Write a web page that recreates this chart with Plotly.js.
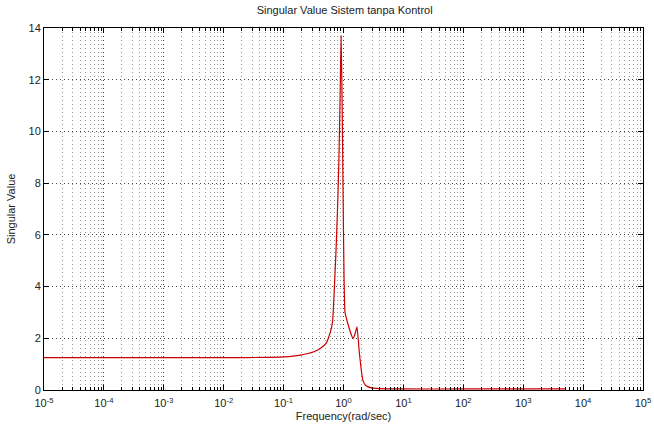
<!DOCTYPE html>
<html>
<head>
<meta charset="utf-8">
<script src="https://cdn.plot.ly/plotly-3.0.1.min.js"></script>
<style>html,body{margin:0;padding:0;background:#fff;}#chart{width:654px;height:433px;}</style>
</head>
<body>
<div id="chart"></div>
<script>
const frequency = [1e-5, 1e-4, 1e-3, 1e-2, 0.05, 0.1, 0.19, 0.32, 0.42, 0.51, 0.57, 0.63, 0.66, 0.69, 0.75, 0.8, 0.84, 0.88, 0.91, 0.95, 0.98, 1.02, 1.06, 1.17, 1.3, 1.43, 1.55, 1.68, 1.82, 1.95, 2.1, 2.3, 2.54, 3.09, 4, 10, 100, 1000, 5000];
const singularValue = [1.25, 1.25, 1.25, 1.25, 1.26, 1.28, 1.35, 1.48, 1.62, 1.8, 2.06, 2.4, 2.7, 3.5, 5.4, 7.2, 9.0, 11.5, 13.7, 11.0, 8.0, 4.4, 3.0, 2.6, 2.25, 2.0, 2.15, 2.44, 1.55, 0.9, 0.39, 0.2, 0.13, 0.07, 0.05, 0.04, 0.04, 0.04, 0.04];
const xTickVals = [1e-5, 1e-4, 1e-3, 1e-2, 1e-1, 1e0, 1e1, 1e2, 1e3, 1e4, 1e5];
const xTickText = ['10<sup>-5</sup>', '10<sup>-4</sup>', '10<sup>-3</sup>', '10<sup>-2</sup>', '10<sup>-1</sup>', '10<sup>0</sup>', '10<sup>1</sup>', '10<sup>2</sup>', '10<sup>3</sup>', '10<sup>4</sup>', '10<sup>5</sup>'];
const yTickVals = [0, 2, 4, 6, 8, 10, 12, 14];

const font = {family: 'Liberation Sans, Arial, sans-serif', size: 11, color: '#222'};

Plotly.newPlot('chart', [{
  x: frequency,
  y: singularValue,
  type: 'scatter',
  mode: 'lines',
  line: {color: '#cc0000', width: 1.2, shape: 'spline', smoothing: 0.4},
  hoverinfo: 'x+y'
}], {
  width: 654, height: 433,
  margin: {l: 44, r: 11, t: 28, b: 43},
  paper_bgcolor: '#fff', plot_bgcolor: '#fff',
  font: font,
  showlegend: false,
  title: {text: 'Singular Value Sistem tanpa Kontrol', font: {family: font.family, size: 11, color: '#222'}, x: 0.527, xanchor: 'center', y: 0.985, yanchor: 'top'},
  xaxis: {
    type: 'log', range: [-5, 5],
    tickvals: xTickVals, ticktext: xTickText,
    ticks: 'inside', ticklen: 5, tickcolor: '#000',
    ticklabelstandoff: 3,
    showline: true, linecolor: '#000', linewidth: 1, mirror: 'ticks',
    showgrid: true, gridcolor: '#444', griddash: '1px,3px', gridwidth: 1,
    zeroline: false,
    tickfont: font,
    minor: {dtick: 'D1', ticks: 'inside', ticklen: 3, tickcolor: '#000', showgrid: true, gridcolor: '#999', griddash: '1px,3px', gridwidth: 1},
    title: {text: 'Frequency(rad/sec)', font: font, standoff: 4}
  },
  yaxis: {
    range: [0, 14],
    tickvals: yTickVals,
    ticks: 'inside', ticklen: 5, tickcolor: '#000',
    showline: true, linecolor: '#000', linewidth: 1, mirror: 'ticks',
    showgrid: true, gridcolor: '#444', griddash: '1px,3px', gridwidth: 1,
    zeroline: false,
    tickfont: font,
    title: {text: 'Singular Value', font: font, standoff: 10}
  }
}, {displayModeBar: false, staticPlot: true});
</script>
</body>
</html>
